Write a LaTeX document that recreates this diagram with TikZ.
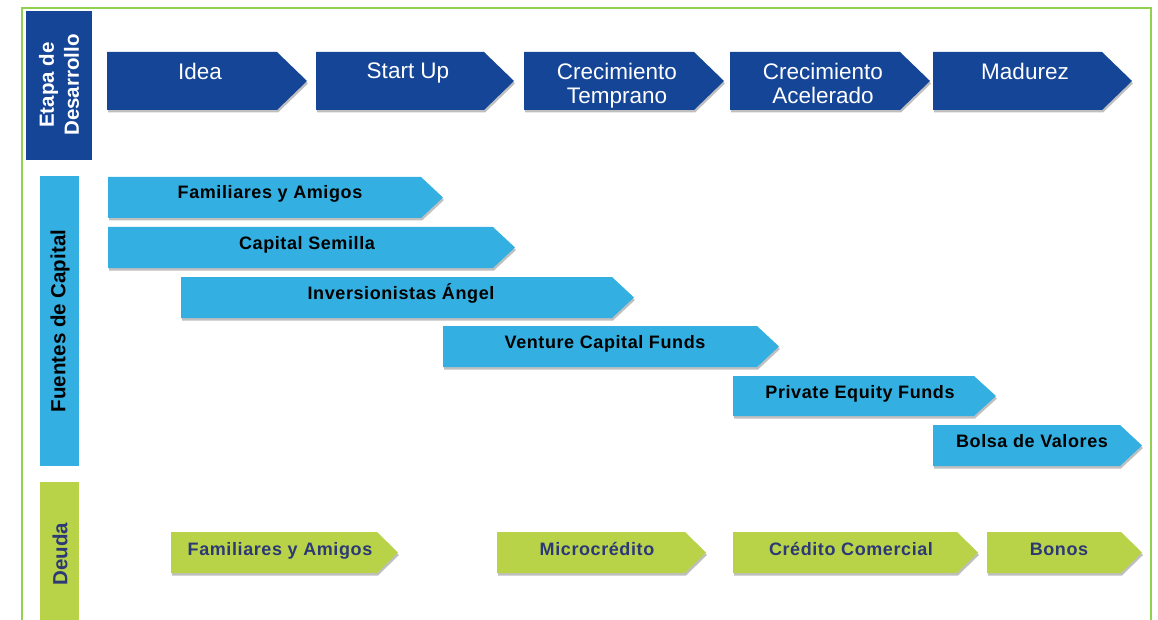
\documentclass[tikz,border=0pt]{standalone}
\usepackage{fontspec}
\setmainfont{Liberation Sans}
\newfontfamily\boldsp[LetterSpace=3.3]{Liberation Sans}
\usetikzlibrary{shadows}
\definecolor{dblue}{HTML}{154597}
\definecolor{lblue}{HTML}{33B0E1}
\definecolor{lgreen}{HTML}{B8D347}
\definecolor{navy}{HTML}{2D3877}
\definecolor{framegreen}{HTML}{92D050}
\tikzset{
  shad/.style={drop shadow={shadow xshift=1pt,shadow yshift=-2.5pt,fill=black,opacity=0.25}},
  stagebox/.style={fill=dblue,shad},
  srcbox/.style={fill=lblue,shad},
  debtbox/.style={fill=lgreen,shad},
  stagetxt/.style={text=white,font=\fontsize{22.5}{24}\selectfont,align=center,anchor=north,inner sep=0pt},
  srctxt/.style={text=black,font=\boldsp\bfseries\fontsize{18}{20}\selectfont,anchor=base,inner sep=0pt},
  debttxt/.style={text=navy,font=\boldsp\bfseries\fontsize{18}{20}\selectfont,anchor=base,inner sep=0pt},
  sidetxt/.style={font=\bfseries\fontsize{20.5}{25}\selectfont,rotate=90,align=center,inner sep=0pt}
}
\newcommand{\chev}[6]{\fill[#1] (#2,#4) -- ({#3-#6},#4) -- (#3,{(#4+#5)/2}) -- ({#3-#6},#5) -- (#2,#5) -- cycle;}
\begin{document}
\begin{tikzpicture}[x=1pt,y=-1pt]
\useasboundingbox (0,0) rectangle (1158,620);
% frame
\draw[framegreen,line width=1.8pt] (22,620) -- (22,8) -- (1151,8) -- (1151,620);
% side labels
\fill[dblue] (26,11) rectangle (92,160);
\node[sidetxt,text=white] (etapa) at (59,85) {Etapa de\\Desarrollo};
\fill[lblue] (40,176) rectangle (79,466);
\node[sidetxt,text=black] (fuentes) at (60,321) {Fuentes de Capital};
\fill[lgreen] (40,482) rectangle (79,620);
\node[sidetxt,text=navy] (deuda) at (60,554) {Deuda};
% stages
\chev{stagebox}{107}{307}{52}{110}{30}
\node[stagetxt] (idea) at (200,63) {Idea};
\chev{stagebox}{316}{514}{52}{110}{30}
\node[stagetxt] (startup) at (408,63) {Start Up};
\chev{stagebox}{524}{724}{52}{110}{30}
\node[stagetxt] (temprano) at (617,63) {Crecimiento\\Temprano};
\chev{stagebox}{730}{930}{52}{110}{30}
\node[stagetxt] (acelerado) at (823,63) {Crecimiento\\Acelerado};
\chev{stagebox}{933}{1132}{52}{110}{30}
\node[stagetxt] (madurez) at (1025,63) {Madurez};
% sources of capital
\chev{srcbox}{108}{443}{177}{218}{22}
\node[srctxt] (fya) at (270,199) {Familiares y Amigos};
\chev{srcbox}{108}{515}{227}{268}{22}
\node[srctxt] (semilla) at (307,249) {Capital Semilla};
\chev{srcbox}{181}{634}{277}{318}{22}
\node[srctxt] (angel) at (401,299) {Inversionistas Ángel};
\chev{srcbox}{443}{779}{326}{367}{22}
\node[srctxt] (vc) at (605,348) {Venture Capital Funds};
\chev{srcbox}{733}{996}{376}{416}{22}
\node[srctxt] (pe) at (860,398) {Private Equity Funds};
\chev{srcbox}{933}{1142}{425}{466}{22}
\node[srctxt] (bolsa) at (1032,447) {Bolsa de Valores};
% debt
\chev{debtbox}{171}{398}{532}{573}{21}
\node[debttxt] (dfya) at (280,555) {Familiares y Amigos};
\chev{debtbox}{497}{706}{532}{573}{21}
\node[debttxt] (micro) at (597,555) {Microcrédito};
\chev{debtbox}{733}{978}{532}{573}{21}
\node[debttxt] (comercial) at (851,555) {Crédito Comercial};
\chev{debtbox}{987}{1142}{532}{573}{21}
\node[debttxt] (bonos) at (1059,555) {Bonos};
\end{tikzpicture}
\end{document}
